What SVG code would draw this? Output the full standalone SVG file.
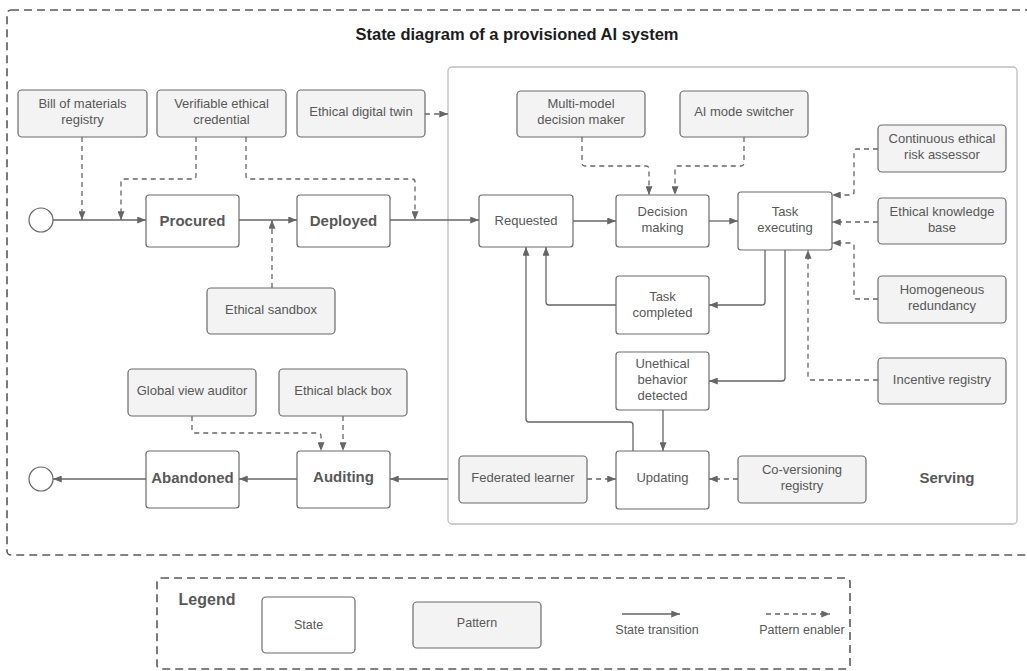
<svg xmlns="http://www.w3.org/2000/svg" width="1027" height="671" viewBox="0 0 1027 671">
  <style>
    text { font-family: "Liberation Sans", Arial, sans-serif; fill: #585858; text-anchor: middle; }
    .t { font-size: 13px; }
    .lg { font-size: 12.5px; }
    .b { font-size: 15px; font-weight: bold; }
    .title { font-size: 16.5px; font-weight: bold; fill: #1c1c1c; }
    .frame { fill: none; stroke: #5a5a5a; stroke-width: 1.6; stroke-dasharray: 8 5; }
    .serving { fill: #fff; stroke: #bdbdbd; stroke-width: 1.3; }
    .state { fill: #fff; stroke: #6b6b6b; stroke-width: 1.2; }
    .pattern { fill: #f2f3f2; stroke: #6b6b6b; stroke-width: 1.2; }
    .conn path, .conn line { fill: none; stroke: #666; stroke-width: 1.3; }
    .conn .tr { marker-end: url(#arr); }
    .conn .en { stroke-dasharray: 5 4; marker-end: url(#arr); }
    .circ { fill: #fff; stroke: #666; stroke-width: 1.2; }
  </style>
  <defs>
    <marker id="arr" viewBox="0 0 10 8" refX="10" refY="4" markerWidth="9" markerHeight="7" orient="auto" markerUnits="userSpaceOnUse">
      <path d="M0,0 L10,4 L0,8 z" fill="#666"/>
    </marker>
  </defs>

  <rect width="1027" height="671" fill="#fff"/>

  <!-- outer frame and title -->
  <rect class="frame" x="7" y="10" width="1040" height="545" rx="4"/>
  <text class="title" x="517" y="40">State diagram of a provisioned AI system</text>

  <!-- serving composite state -->
  <g id="serving">
    <rect class="serving" x="448" y="67" width="569" height="457" rx="4"/>
    <text class="b" x="947" y="483">Serving</text>
  </g>

  <!-- connectors -->
  <g id="connectors" class="conn">
    <!-- state transitions -->
    <path class="tr" d="M53,220 H146"/>
    <path class="tr" d="M239,220 H297"/>
    <path class="tr" d="M390,220 H479"/>
    <path class="tr" d="M573,221 H616"/>
    <path class="tr" d="M709,221 H738"/>
    <path class="tr" d="M765,250 V302 Q765,305 762,305 H709"/>
    <path class="tr" d="M616,305 H549 Q546,305 546,302 V247"/>
    <path class="tr" d="M785,250 V378 Q785,381 782,381 H709"/>
    <path class="tr" d="M663,410 V451"/>
    <path class="tr" d="M633,451 V425 Q633,422 630,422 H529 Q526,422 526,419 V247"/>
    <path class="tr" d="M448,479 H390"/>
    <path class="tr" d="M297,479 H239"/>
    <path class="tr" d="M146,479 H53"/>
    <!-- pattern enablers -->
    <path class="en" d="M82,137 V220"/>
    <path class="en" d="M196,137 V176 Q196,179 193,179 H124 Q121,179 121,182 V220"/>
    <path class="en" d="M246,137 V176 Q246,179 249,179 H412 Q415,179 415,182 V220"/>
    <path class="en" d="M272,288 V220"/>
    <path class="en" d="M425,114 H448"/>
    <path class="en" d="M582,137 V163 Q582,166 585,166 H646 Q649,166 649,169 V195"/>
    <path class="en" d="M744,137 V163 Q744,166 741,166 H678 Q675,166 675,169 V195"/>
    <path class="en" d="M878,149 H857 Q854,149 854,152 V192 Q854,195 851,195 H832"/>
    <path class="en" d="M878,222 H832"/>
    <path class="en" d="M878,299 H857 Q854,299 854,296 V246 Q854,243 851,243 H832"/>
    <path class="en" d="M878,380 H811 Q808,380 808,377 V250"/>
    <path class="en" d="M587,479 H616"/>
    <path class="en" d="M738,479 H709"/>
    <path class="en" d="M192,416 V430 Q192,433 195,433 H318 Q321,433 321,436 V451"/>
    <path class="en" d="M343,416 V451"/>
  </g>

  <!-- pseudo states -->
  <g id="start"><circle class="circ" cx="41" cy="220" r="12"/></g>
  <g id="end"><circle class="circ" cx="41" cy="479" r="12"/></g>

  <!-- states -->
  <g id="procured"><rect class="state" x="146" y="195" width="93" height="52" rx="3"/><text class="b" x="192.5" y="226">Procured</text></g>
  <g id="deployed"><rect class="state" x="297" y="195" width="93" height="52" rx="3"/><text class="b" x="343.5" y="226">Deployed</text></g>
  <g id="requested"><rect class="state" x="479" y="195" width="94" height="52" rx="3"/><text class="t" x="526" y="225">Requested</text></g>
  <g id="decision-making"><rect class="state" x="616" y="195" width="93" height="52" rx="3"/><text class="t" x="662.5" y="216">Decision</text><text class="t" x="662.5" y="232">making</text></g>
  <g id="task-executing"><rect class="state" x="738" y="192" width="94" height="58" rx="3"/><text class="t" x="785" y="216">Task</text><text class="t" x="785" y="232">executing</text></g>
  <g id="task-completed"><rect class="state" x="616" y="276" width="93" height="58" rx="3"/><text class="t" x="662.5" y="301">Task</text><text class="t" x="662.5" y="317">completed</text></g>
  <g id="unethical-behavior-detected"><rect class="state" x="616" y="352" width="93" height="58" rx="3"/><text class="t" x="662.5" y="368">Unethical</text><text class="t" x="662.5" y="384">behavior</text><text class="t" x="662.5" y="400">detected</text></g>
  <g id="updating"><rect class="state" x="616" y="451" width="93" height="58" rx="3"/><text class="t" x="662.5" y="482">Updating</text></g>
  <g id="auditing"><rect class="state" x="297" y="451" width="93" height="57" rx="3"/><text class="b" x="343.5" y="482">Auditing</text></g>
  <g id="abandoned"><rect class="state" x="146" y="451" width="93" height="57" rx="3"/><text class="b" x="192.5" y="483">Abandoned</text></g>

  <!-- patterns -->
  <g id="bill-of-materials-registry"><rect class="pattern" x="18" y="90" width="129" height="47" rx="4"/><text class="t" x="82.5" y="108">Bill of materials</text><text class="t" x="82.5" y="124">registry</text></g>
  <g id="verifiable-ethical-credential"><rect class="pattern" x="157" y="90" width="129" height="47" rx="4"/><text class="t" x="221.5" y="108">Verifiable ethical</text><text class="t" x="221.5" y="124">credential</text></g>
  <g id="ethical-digital-twin"><rect class="pattern" x="297" y="90" width="128" height="47" rx="4"/><text class="t" x="361" y="116">Ethical digital twin</text></g>
  <g id="multi-model-decision-maker"><rect class="pattern" x="517" y="91" width="128" height="46" rx="4"/><text class="t" x="581" y="108">Multi-model</text><text class="t" x="581" y="124">decision maker</text></g>
  <g id="ai-mode-switcher"><rect class="pattern" x="680" y="91" width="128" height="46" rx="4"/><text class="t" x="744" y="116">AI mode switcher</text></g>
  <g id="continuous-ethical-risk-assessor"><rect class="pattern" x="878" y="125" width="128" height="47" rx="4"/><text class="t" x="942" y="143">Continuous ethical</text><text class="t" x="942" y="159">risk assessor</text></g>
  <g id="ethical-knowledge-base"><rect class="pattern" x="878" y="198" width="128" height="46" rx="4"/><text class="t" x="942" y="216">Ethical knowledge</text><text class="t" x="942" y="232">base</text></g>
  <g id="homogeneous-redundancy"><rect class="pattern" x="878" y="276" width="128" height="47" rx="4"/><text class="t" x="942" y="294">Homogeneous</text><text class="t" x="942" y="310">redundancy</text></g>
  <g id="incentive-registry"><rect class="pattern" x="878" y="358" width="128" height="46" rx="4"/><text class="t" x="942" y="384">Incentive registry</text></g>
  <g id="federated-learner"><rect class="pattern" x="459" y="456" width="128" height="47" rx="4"/><text class="t" x="523" y="482">Federated learner</text></g>
  <g id="co-versioning-registry"><rect class="pattern" x="738" y="456" width="128" height="47" rx="4"/><text class="t" x="802" y="474">Co-versioning</text><text class="t" x="802" y="490">registry</text></g>
  <g id="ethical-sandbox"><rect class="pattern" x="207" y="288" width="128" height="46" rx="4"/><text class="t" x="271" y="314">Ethical sandbox</text></g>
  <g id="global-view-auditor"><rect class="pattern" x="128" y="369" width="128" height="47" rx="4"/><text class="t" x="192" y="395">Global view auditor</text></g>
  <g id="ethical-black-box"><rect class="pattern" x="279" y="369" width="128" height="47" rx="4"/><text class="t" x="343" y="395">Ethical black box</text></g>

  <!-- legend -->
  <g id="legend">
    <rect class="frame" x="157" y="578" width="693" height="91" rx="4"/>
    <text class="b" x="207" y="605" style="font-size:16px">Legend</text>
    <rect class="state" x="262" y="597" width="93" height="56" rx="4"/>
    <text class="lg" x="308.5" y="629">State</text>
    <rect class="pattern" x="413" y="602" width="128" height="46" rx="4"/>
    <text class="lg" x="477" y="627">Pattern</text>
    <g class="conn">
      <path class="tr" d="M622,614 H680"/>
      <path class="en" d="M766,614 H830"/>
    </g>
    <text class="lg" x="657" y="634">State transition</text>
    <text class="lg" x="802" y="634">Pattern enabler</text>
  </g>
</svg>
